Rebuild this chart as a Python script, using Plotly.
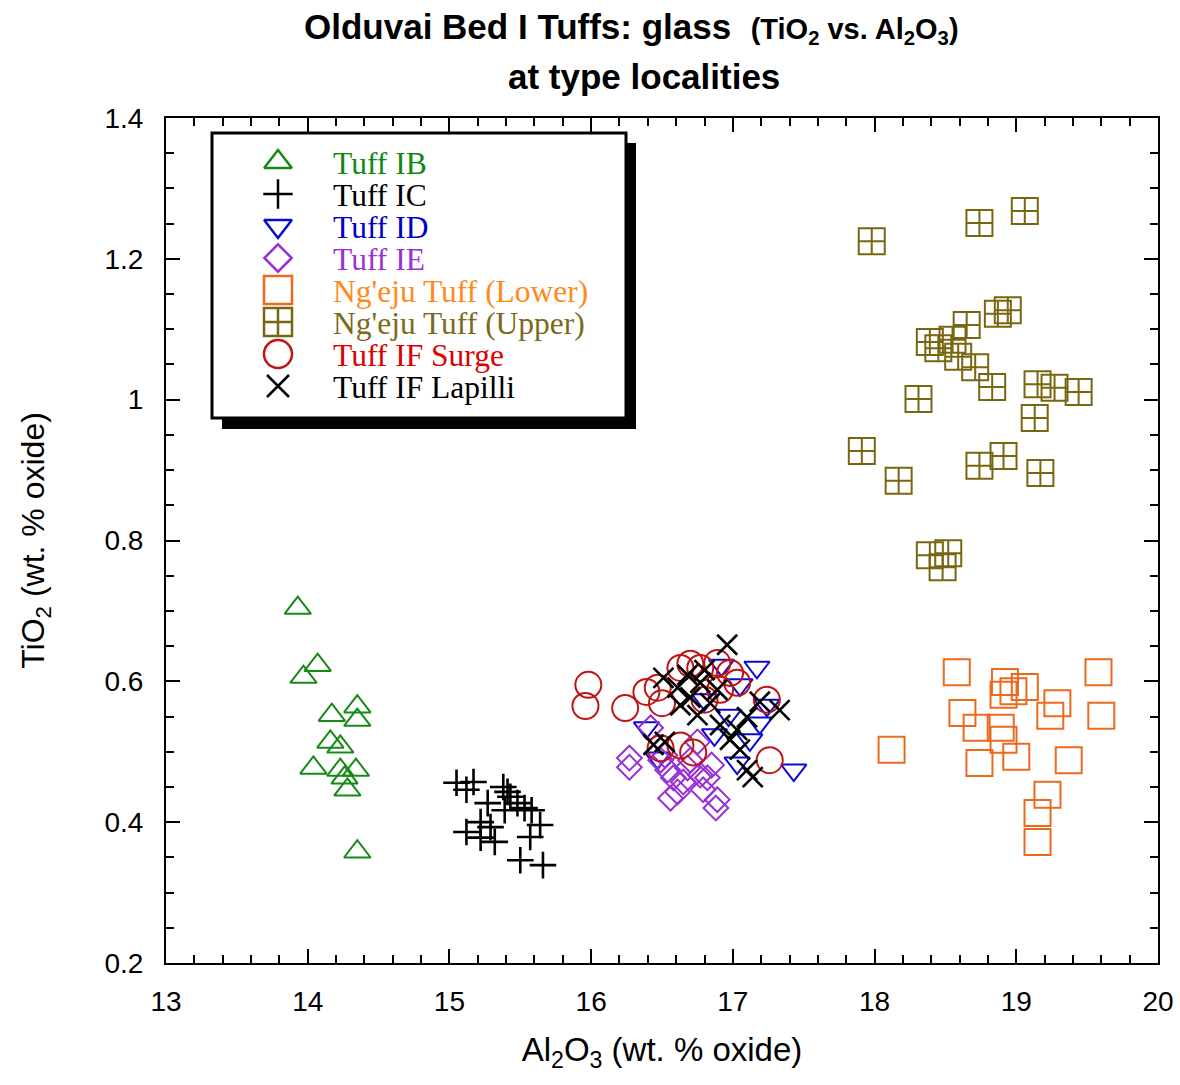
import plotly.graph_objects as go

# ---------------- data (Al2O3, TiO2 wt.%) ----------------
ib_x = [13.93, 14.07, 13.97, 14.17, 14.35, 14.35, 14.16, 14.23, 14.04, 14.34, 14.26, 14.28, 14.35, 14.23]
ib_y = [0.704, 0.623, 0.606, 0.552, 0.564, 0.545, 0.514, 0.507, 0.477, 0.474, 0.463, 0.446, 0.358, 0.474]

ic_x = [15.05, 15.17, 15.12, 15.38, 15.43, 15.48, 15.53, 15.58, 15.27, 15.64,
        15.22, 15.29, 15.12, 15.22, 15.32, 15.57, 15.50, 15.66, 15.39, 15.41]
ic_y = [0.456, 0.457, 0.446, 0.450, 0.436, 0.427, 0.420, 0.417, 0.427, 0.396,
        0.400, 0.393, 0.386, 0.378, 0.372, 0.379, 0.346, 0.339, 0.417, 0.443]

id_x = [16.92, 17.17, 17.05, 17.19, 17.12, 17.03, 17.43, 17.24, 16.39, 16.47, 16.87, 16.80, 16.97]
id_y = [0.623, 0.620, 0.595, 0.541, 0.517, 0.484, 0.474, 0.566, 0.534, 0.491, 0.524, 0.574, 0.552]

ie_x = [16.42, 16.27, 16.27, 16.49, 16.54, 16.58, 16.61, 16.68, 16.65, 16.56,
        16.70, 16.75, 16.77, 16.82, 16.79, 16.89, 16.88, 16.85, 16.52]
ie_y = [0.534, 0.491, 0.478, 0.488, 0.474, 0.463, 0.443, 0.477, 0.457, 0.434,
        0.488, 0.514, 0.467, 0.463, 0.446, 0.432, 0.420, 0.481, 0.495]

low_x = [18.58, 19.58, 18.92, 19.06, 18.91, 18.98, 19.29, 19.24, 18.62, 19.60,
         18.72, 18.89, 18.91, 18.12, 18.74, 19.00, 19.37, 19.22, 19.15, 19.15]
low_y = [0.613, 0.613, 0.599, 0.592, 0.581, 0.586, 0.569, 0.551, 0.555, 0.551,
         0.534, 0.534, 0.517, 0.503, 0.484, 0.493, 0.488, 0.439, 0.413, 0.372]

up_x = [17.98, 18.74, 19.06, 18.94, 18.87, 18.65, 18.39, 18.45, 18.55, 18.59,
        18.71, 18.83, 19.15, 19.27, 19.44, 19.13, 18.31, 17.91, 18.17, 18.74,
        18.91, 19.17, 18.39, 18.52, 18.48]
up_y = [1.225, 1.251, 1.268, 1.127, 1.122, 1.106, 1.082, 1.073, 1.085, 1.061,
        1.046, 1.018, 1.022, 1.017, 1.011, 0.974, 1.001, 0.927, 0.885, 0.906,
        0.920, 0.896, 0.779, 0.782, 0.762]

surge_x = [15.98, 15.96, 16.24, 16.39, 16.47, 16.50, 16.63, 16.70, 16.77, 16.89,
           16.98, 17.03, 17.24, 17.26, 16.49, 16.63, 16.72, 16.80, 16.91]
surge_y = [0.595, 0.565, 0.562, 0.585, 0.591, 0.569, 0.619, 0.625, 0.619, 0.626,
           0.612, 0.598, 0.574, 0.488, 0.505, 0.509, 0.499, 0.574, 0.588]

lap_x = [16.96, 16.51, 16.61, 16.70, 16.63, 16.77, 16.84, 16.89, 16.75, 16.91, 17.03,
         16.98, 17.05, 17.10, 17.14, 17.10, 17.19, 17.33, 16.44, 16.52, 16.80, 16.68]
lap_y = [0.652, 0.605, 0.591, 0.577, 0.566, 0.598, 0.569, 0.588, 0.552, 0.538, 0.531,
         0.517, 0.503, 0.474, 0.464, 0.549, 0.571, 0.559, 0.510, 0.514, 0.616, 0.609]

names = ["Tuff IB", "Tuff IC", "Tuff ID", "Tuff IE", "Ng'eju Tuff (Lower)",
         "Ng'eju Tuff (Upper)", "Tuff IF Surge", "Tuff IF Lapilli"]
xs = [ib_x, ic_x, id_x, ie_x, low_x, up_x, surge_x, lap_x]
ys = [ib_y, ic_y, id_y, ie_y, low_y, up_y, surge_y, lap_y]

# ---------------- styles ----------------
symbols = ["triangle-up-open", "cross-thin-open", "triangle-down-open", "diamond-open",
           "square-open", "square-cross-open", "circle-open", "x-thin-open"]
marker_colors = ["#168a16", "#000000", "#0a0ad0", "#9a30d4", "#ea6a1e", "#786610", "#c01414", "#000000"]
text_colors = ["#0f8a0f", "#000000", "#0000cc", "#9b30d8", "#ff8a1c", "#7a6b1a", "#dd0000", "#000000"]
sizes = [23, 19, 22, 19, 26, 26, 26, 20]
widths = [2, 2.6, 2, 2, 2, 2, 2, 2.6]
legend_sizes = [24, 21, 24, 21, 28, 28, 28, 22]

SANS = "Liberation Sans, Arial, sans-serif"

fig = go.Figure()
for n, x, y, s, c, sz, w in zip(names, xs, ys, symbols, marker_colors, sizes, widths):
    fig.add_trace(go.Scatter(
        x=x, y=y, mode="markers", name=n, showlegend=False,
        marker=dict(symbol=s, size=sz, color=c, line=dict(color=c, width=w)),
        xaxis="x", yaxis="y"))

# ---------------- hand-built legend (overlay axis in [0,1]) ----------------
row_px = [162, 194, 226, 258, 290, 322, 354, 386]
PL, PR, PT, PB = 166, 1158, 118, 963
fx = lambda px: (px - PL) / (PR - PL)
fy = lambda py: (PB - py) / (PB - PT)

for i, (n, s, c, tc, lsz) in enumerate(zip(names, symbols, marker_colors, text_colors, legend_sizes)):
    fig.add_trace(go.Scatter(
        x=[fx(278)], y=[fy(row_px[i])], mode="markers", showlegend=False, hoverinfo="skip",
        marker=dict(symbol=s, size=lsz, color=c, line=dict(color=c, width=2.5)),
        xaxis="x2", yaxis="y2"))
    fig.add_annotation(
        xref="paper", yref="paper", x=fx(331), y=fy(row_px[i] + 1), xanchor="left", yanchor="middle",
        text=n, showarrow=False,
        font=dict(family="Liberation Serif, Times New Roman, serif", size=31.5, color=tc))

# legend box with drop shadow (below traces; no data sits there)
fig.add_shape(type="rect", xref="paper", yref="paper", layer="below",
              x0=fx(222), x1=fx(636), y0=fy(429), y1=fy(143),
              fillcolor="black", line=dict(width=0))
fig.add_shape(type="rect", xref="paper", yref="paper", layer="below",
              x0=fx(212), x1=fx(626), y0=fy(418), y1=fy(133),
              fillcolor="white", line=dict(color="black", width=3))

# ---------------- titles ----------------
fig.add_annotation(
    xref="paper", yref="paper", x=fx(631), y=fy(28), xanchor="center", yanchor="middle",
    showarrow=False,
    text="<b>Olduvai Bed I Tuffs: glass</b>  <b><span style='font-size:29px'>(TiO<sub>2</sub> vs. Al<sub>2</sub>O<sub>3</sub>)</span></b>",
    font=dict(family=SANS, size=35, color="black"))
fig.add_annotation(
    xref="paper", yref="paper", x=fx(644), y=fy(76), xanchor="center", yanchor="middle",
    showarrow=False, text="<b>at type localities</b>",
    font=dict(family=SANS, size=35, color="black"))

axis_common = dict(
    showline=True, linecolor="black", linewidth=2, mirror="allticks",
    ticks="inside", ticklen=14, tickwidth=2, tickcolor="black",
    showgrid=False, zeroline=False, automargin=False,
    tickfont=dict(family=SANS, size=28, color="black"),
)

fig.update_layout(
    width=1180, height=1085,
    margin=dict(l=PL, r=1180 - PR, t=PT, b=1085 - PB, autoexpand=False),
    paper_bgcolor="white", plot_bgcolor="white",
    showlegend=False,
    xaxis=dict(range=[13, 20], dtick=1, tick0=13,
               minor=dict(dtick=0.2, ticks="inside", ticklen=8, tickwidth=1.5, tickcolor="black", showgrid=False),
               ticklabelstandoff=12,
               title=dict(text="Al<sub>2</sub>O<sub>3</sub> (wt. % oxide)", standoff=22,
                          font=dict(family=SANS, size=33, color="black")),
               **axis_common),
    yaxis=dict(range=[0.2, 1.4], dtick=0.2, tick0=0.2, tickformat="~g",
               minor=dict(dtick=0.05, ticks="inside", ticklen=8, tickwidth=1.5, tickcolor="black", showgrid=False),
               ticklabelstandoff=15,
               title=dict(text="TiO<sub>2</sub> (wt. % oxide)", standoff=50,
                          font=dict(family=SANS, size=32, color="black")),
               **axis_common),
    xaxis2=dict(overlaying="x", range=[0, 1], visible=False, fixedrange=True, anchor="y2"),
    yaxis2=dict(overlaying="y", range=[0, 1], visible=False, fixedrange=True, anchor="x2"),
)

fig.write_html("out.html")
